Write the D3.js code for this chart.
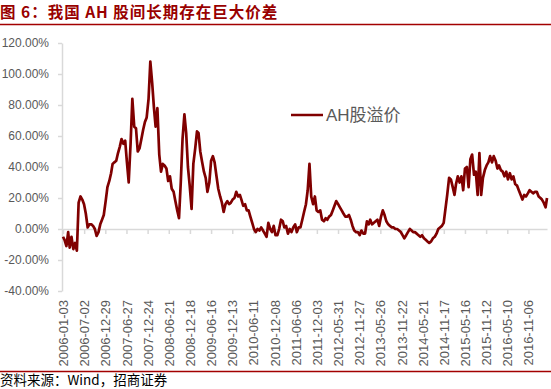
<!DOCTYPE html>
<html><head><meta charset="utf-8">
<script src="https://cdn.jsdelivr.net/npm/d3@7"></script>
<style>body{margin:0;background:#fff;} svg{display:block;}</style>
</head><body>
<svg id="chart" width="551" height="389"></svg>
<script>
const titleText = "图 6：我国 AH 股间长期存在巨大价差";
const sourceText = "资料来源：Wind，招商证券";
const seriesName = "AH股溢价";
const yTicks = [-40, -20, 0, 20, 40, 60, 80, 100, 120];
const xTickLabels = ["2006-01-03","2006-07-02","2006-12-29","2007-06-27","2007-12-24","2008-06-21","2008-12-18","2009-06-16","2009-12-13","2010-06-11","2010-12-08","2011-06-06","2011-12-03","2012-05-31","2012-11-27","2013-05-26","2013-11-22","2014-05-21","2014-11-17","2015-05-16","2015-11-12","2016-05-10","2016-11-06"];
const dateRange = ["2006-01-03", "2017-04-13"];

const dates = [
"2006-01-03","2006-01-16","2006-02-01","2006-02-16","2006-03-01","2006-03-16","2006-04-01","2006-04-16","2006-05-01","2006-05-16","2006-06-01","2006-06-16","2006-07-01","2006-07-16","2006-08-01","2006-08-16","2006-09-01","2006-09-16","2006-10-01","2006-10-16","2006-11-01","2006-11-16","2006-12-01","2006-12-16",
"2007-01-01","2007-01-16","2007-02-01","2007-02-16","2007-03-01","2007-03-16","2007-04-01","2007-04-16","2007-05-01","2007-05-16","2007-06-01","2007-06-16","2007-07-01","2007-07-16","2007-08-01","2007-08-16","2007-09-01","2007-09-16","2007-10-01","2007-10-16","2007-11-01","2007-11-16","2007-12-01","2007-12-16",
"2008-01-01","2008-01-16","2008-02-01","2008-02-16","2008-03-01","2008-03-16","2008-04-01","2008-04-16","2008-05-01","2008-05-16","2008-06-01","2008-06-16","2008-07-01","2008-07-16","2008-08-01","2008-08-16","2008-09-01","2008-09-16","2008-10-01","2008-10-16","2008-11-01","2008-11-16","2008-12-01","2008-12-16",
"2009-01-01","2009-01-16","2009-02-01","2009-02-16","2009-03-01","2009-03-16","2009-04-01","2009-04-16","2009-05-01","2009-05-16","2009-06-01","2009-06-16","2009-07-01","2009-07-16","2009-08-01","2009-08-16","2009-09-01","2009-09-16","2009-10-01","2009-10-16","2009-11-01","2009-11-16","2009-12-01","2009-12-16",
"2010-01-01","2010-01-16","2010-02-01","2010-02-16","2010-03-01","2010-03-16","2010-04-01","2010-04-16","2010-05-01","2010-05-16","2010-06-01","2010-06-16","2010-07-01","2010-07-16","2010-08-01","2010-08-16","2010-09-01","2010-09-16","2010-10-01","2010-10-16","2010-11-01","2010-11-16","2010-12-01","2010-12-16",
"2011-01-01","2011-01-16","2011-02-01","2011-02-16","2011-03-01","2011-03-16","2011-04-01","2011-04-16","2011-05-01","2011-05-16","2011-06-01","2011-06-16","2011-07-01","2011-07-16","2011-08-01","2011-08-16","2011-09-01","2011-09-16","2011-10-01","2011-10-16","2011-11-01","2011-11-16","2011-12-01","2011-12-16",
"2012-01-01","2012-01-16","2012-02-01","2012-02-16","2012-03-01","2012-03-16","2012-04-01","2012-04-16","2012-05-01","2012-05-16","2012-06-01","2012-06-16","2012-07-01","2012-07-16","2012-08-01","2012-08-16","2012-09-01","2012-09-16","2012-10-01","2012-10-16","2012-11-01","2012-11-16","2012-12-01","2012-12-16",
"2013-01-01","2013-01-16","2013-02-01","2013-02-16","2013-03-01","2013-03-16","2013-04-01","2013-04-16","2013-05-01","2013-05-16","2013-06-01","2013-06-16","2013-07-01","2013-07-16","2013-08-01","2013-08-16","2013-09-01","2013-09-16","2013-10-01","2013-10-16","2013-11-01","2013-11-16","2013-12-01","2013-12-16",
"2014-01-01","2014-01-16","2014-02-01","2014-02-16","2014-03-01","2014-03-16","2014-04-01","2014-04-16","2014-05-01","2014-05-16","2014-06-01","2014-06-16","2014-07-01","2014-07-16","2014-08-01","2014-08-16","2014-09-01","2014-09-16","2014-10-01","2014-10-16","2014-11-01","2014-11-16","2014-12-01","2014-12-16",
"2015-01-01","2015-01-16","2015-02-01","2015-02-16","2015-03-01","2015-03-16","2015-04-01","2015-04-16","2015-05-01","2015-05-16","2015-06-01","2015-06-16","2015-07-01","2015-07-16","2015-08-01","2015-08-16","2015-09-01","2015-09-16","2015-10-01","2015-10-16","2015-11-01","2015-11-16","2015-12-01","2015-12-16",
"2016-01-01","2016-01-16","2016-02-01","2016-02-16","2016-03-01","2016-03-16","2016-04-01","2016-04-16","2016-05-01","2016-05-16","2016-06-01","2016-06-16","2016-07-01","2016-07-16","2016-08-01","2016-08-16","2016-09-01","2016-09-16","2016-10-01","2016-10-16","2016-11-01","2016-11-16","2016-12-01","2016-12-16",
"2017-01-01","2017-01-16","2017-02-01","2017-02-16","2017-03-01","2017-03-16","2017-04-01","2017-04-13"
];

// AH premium, %
const premium = [
-5,-7,-11,-2,-12,-5,-13,-9,-14,17,21,19,16,10,1,3,3,2,0,-4.5,-2,3,6,9,
18,27,31,36,42,43,44,49,53,58,55,57,43,30,55,84,66,65,50,52,58,64,69,72,
84,108,94,78,66,78,48,37,42,41,39,31,34,26,24,18,12,7,30,58,74,62,40,28,
13,42,52,63,62,50,43,37,33,24,30,44,47,43,34,26,21,17,11,16,18,16,17,19,
20,24,21,22,19,15,16,12,12,8,4,0,-2,0,-1,1,-1,-3,-5,4,0,-2,2,-4,
-4,0,6,5,1,2,-3,0,-2,1,3,-2,1,1,6,11,16,25,42,21,16,21,12,11,
12,6,5,7,6,8,9,12,15,18,16,14,12,10,8,8,9,6,2,-1,-2,-2,-4,-1,
-3,-3,5,3,6,3,4,5,6,2,8,12,9,5,3,2,1,1,0,0,-1,-2,-4,-6,
-4,-2,0,-1,-2,-2,-3,-4,-5,-4,-6,-7,-8,-9,-8,-6,-5,-3,0,1,2,4,13,22,
33,32,27,22,29,34,30,34,25,39,40,27,45,48,35,37,22,49,22,33,38,41,43,47,
43,47,44,39,41,38,37,34,37,32,36,32,34,29,28,25,22,19,22,21,23,25,24,23,
24,24,21,20,19,17,14,20
];

const parse = d3.timeParse("%Y-%m-%d");
const data = dates.map((d, i) => ({date: parse(d), value: premium[i]}));

const svg = d3.select("#chart");
const W = 551, H = 389;
const red = "#a30000";
const lineColor = "#800000";
const axisColor = "#d9d9d9";
const textColor = "#595959";

// Title
svg.append("text").attr("x", 0).attr("y", 18)
  .attr("font-family", "'Noto Sans CJK SC', sans-serif").attr("font-weight", "bold")
  .attr("font-size", 15.5).attr("letter-spacing", 1).attr("fill", "#990000")
  .text(titleText);
svg.append("line").attr("x1", 0).attr("x2", W).attr("y1", 24.5).attr("y2", 24.5)
  .attr("stroke", red).attr("stroke-width", 1.5);

const x = d3.scaleTime().domain(dateRange.map(parse)).range([63, 547]);
const y = d3.scaleLinear().domain([-40, 120]).range([291, 43]);

// Y axis
const yAxis = svg.append("g").attr("transform", "translate(62,0)")
  .call(d3.axisLeft(y).tickValues(yTicks).tickSize(4).tickSizeOuter(0).tickPadding(9)
    .tickFormat(d => d.toFixed(2) + "%"));
yAxis.select(".domain").attr("stroke", axisColor).attr("stroke-width", 1.5);
yAxis.selectAll(".tick line").attr("stroke", axisColor).attr("stroke-width", 1.5);
yAxis.selectAll("text").attr("fill", textColor).attr("font-size", 12)
  .attr("font-family", "'Liberation Sans', Arial, sans-serif");

// X axis line with ticks at y=0
const tickDates = xTickLabels.map(parse);
const xAxis = svg.append("g").attr("transform", `translate(0,${y(0)})`)
  .call(d3.axisBottom(x).tickValues(tickDates).tickSize(5).tickSizeOuter(0).tickFormat(""));
xAxis.select(".domain").attr("stroke", axisColor).attr("stroke-width", 1.5);
xAxis.selectAll(".tick line").attr("stroke", axisColor).attr("stroke-width", 1.5);

// X labels at the bottom (low position)
const xLab = svg.append("g").attr("transform", `translate(0,${y(-40)})`)
  .call(d3.axisBottom(x).tickValues(tickDates).tickSize(0)
    .tickFormat(d3.timeFormat("%Y-%m-%d")));
xLab.select(".domain").remove();
xLab.selectAll("text")
  .attr("transform", "rotate(-90)")
  .attr("x", -9).attr("y", 0).attr("dy", "0.35em")
  .style("text-anchor", "end")
  .attr("fill", textColor).attr("font-size", 13)
  .attr("font-family", "'Liberation Sans', Arial, sans-serif");

// Line
const line = d3.line().x(d => x(d.date)).y(d => y(d.value));
svg.append("path").datum(data).attr("d", line)
  .attr("fill", "none").attr("stroke", lineColor).attr("stroke-width", 2.7)
  .attr("stroke-linejoin", "round");

// Legend
svg.append("line").attr("x1", 291).attr("x2", 323).attr("y1", 115).attr("y2", 115)
  .attr("stroke", lineColor).attr("stroke-width", 2.5);
svg.append("text").attr("x", 326).attr("y", 121)
  .attr("font-family", "'Liberation Sans', 'Noto Sans CJK SC', sans-serif")
  .attr("font-size", 17).attr("fill", textColor).text(seriesName);

// Bottom line and source
svg.append("line").attr("x1", 0).attr("x2", W).attr("y1", 371.5).attr("y2", 371.5)
  .attr("stroke", red).attr("stroke-width", 1.5);
svg.append("text").attr("x", 0).attr("y", 385)
  .attr("font-family", "'Noto Sans CJK SC', sans-serif")
  .attr("font-size", 13.5).attr("fill", "#000").text(sourceText);
</script>
</body></html>
